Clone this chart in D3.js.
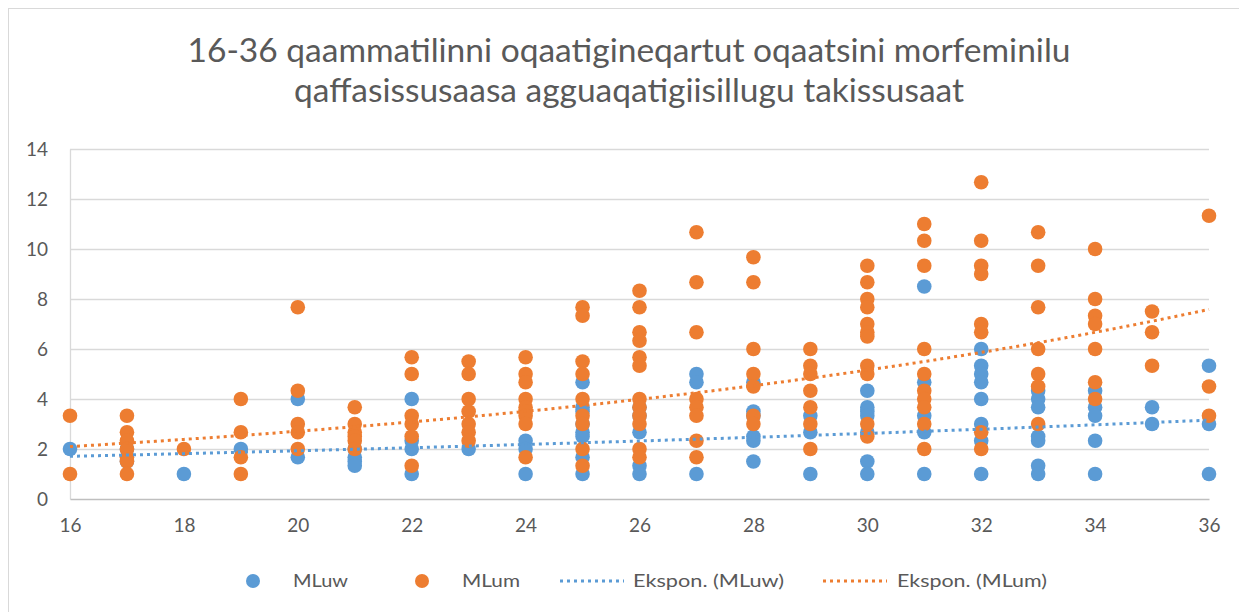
<!DOCTYPE html>
<html>
<head>
<meta charset="utf-8">
<script src="https://cdnjs.cloudflare.com/ajax/libs/d3/7.8.5/d3.min.js"></script>
<style>
  body { margin: 0; background: #fff; }
  text { font-family: Lato, "Open Sans", sans-serif; fill: #595959; }
</style>
</head>
<body>
<script>
// chart data
var titleLines = ["16-36 qaammatilinni oqaatigineqartut oqaatsini morfeminilu",
                  "qaffasissusaasa agguaqatigiisillugu takissusaat"];
var ages = [16, 17, 18, 19, 20, 21, 22, 23, 24, 25, 26, 27, 28, 29, 30, 31, 32, 33, 34, 35, 36];
var xTicks = [16, 18, 20, 22, 24, 26, 28, 30, 32, 34, 36];
var yTicks = [0, 2, 4, 6, 8, 10, 12, 14];
var seriesNames = ["MLuw", "MLum", "Ekspon. (MLuw)", "Ekspon. (MLum)"];

// MLuw values per age (same order as ages)
var mluw = [
  [2],
  [2, 1.5],
  [1],
  [2],
  [4, 1.67],
  [2, 1.67, 1.5, 1.33],
  [4, 2.33, 2, 1],
  [2],
  [2.33, 2, 1],
  [4.67, 3.67, 3.5, 3, 2.67, 2.5, 1.67, 1],
  [3.67, 3.33, 2.67, 1.33, 1],
  [5, 4.67, 1],
  [4.67, 3.5, 3.33, 2.5, 2.33, 1.5],
  [3.33, 2.67, 1],
  [4.33, 3.67, 3.5, 3.33, 2.67, 1.5, 1],
  [8.5, 4.67, 3.33, 2.67, 1],
  [6, 5.33, 5, 4.67, 4, 3, 2.33, 1],
  [4.33, 4, 3.67, 2.5, 2.33, 1.33, 1],
  [4.33, 3.67, 3.33, 2.33, 1],
  [3.67, 3],
  [5.33, 3, 1]
];

// MLum values per age
var mlum = [
  [3.33, 1],
  [3.33, 2.67, 2.33, 2, 1.67, 1.5, 1],
  [2],
  [4, 2.67, 1.67, 1],
  [7.67, 4.33, 3, 2.67, 2],
  [3.67, 3, 2.67, 2.5, 2.33, 2],
  [5.67, 5, 3.33, 3, 2.5, 1.33],
  [5.5, 5, 4, 3.5, 3, 2.67, 2.33],
  [5.67, 5, 4.67, 4, 3.67, 3.5, 3.33, 3, 1.67],
  [7.67, 7.33, 5.5, 5, 4, 3.33, 3, 2, 1.33],
  [8.33, 7.67, 6.67, 6.33, 5.67, 5.33, 4, 3.67, 3.33, 3, 2, 1.67],
  [10.67, 8.67, 6.67, 4, 3.67, 3.33, 2.33, 1.67],
  [9.67, 8.67, 6, 5, 4.5, 3.33, 3],
  [6, 5.33, 5, 4.33, 3.67, 3, 2],
  [9.33, 8.67, 8, 7.67, 7, 6.67, 6.5, 5.33, 5, 3, 2.5],
  [11, 10.33, 9.33, 6, 5, 4.33, 4, 3.67, 3, 2],
  [12.67, 10.33, 9.33, 9, 7, 6.67, 2.67, 2],
  [10.67, 9.33, 7.67, 6, 5, 4.5, 3],
  [10, 8, 7.33, 7, 6, 4.67, 4],
  [7.5, 6.67, 5.33],
  [11.33, 4.5, 3.33]
];

var blue = "#5B9BD5", orange = "#ED7D31";

window.onload = function() {
  var w = 1239, h = 612;
  var svg = d3.select("body").append("svg")
      .attr("width", w)
      .attr("height", h);

  // chart frame (runs off the picture on the right and bottom)
  svg.append("rect")
      .attr("x", 8.5).attr("y", 8.5)
      .attr("width", w + 20).attr("height", h + 20)
      .attr("fill", "#fff")
      .attr("stroke", "#D9D9D9");

  // title, stretched to the width of the original lines
  var titleWidths = [883, 670];
  svg.selectAll(".title")
      .data(titleLines)
      .enter().append("text")
      .attr("class", "title")
      .attr("x", 629)
      .attr("y", function(d, i) { return 62 + i * 40; })
      .attr("text-anchor", "middle")
      .attr("textLength", function(d, i) { return titleWidths[i]; })
      .attr("lengthAdjust", "spacingAndGlyphs")
      .style("font-size", "32px")
      .text(function(d) { return d; });

  var xScale = d3.scaleLinear().domain([16, 36]).range([70, 1209]);
  var yScale = d3.scaleLinear().domain([0, 14]).range([499, 149]);

  // gridlines
  svg.append("g")
      .attr("transform", "translate(70,0)")
      .call(d3.axisLeft(yScale).tickValues(yTicks.slice(1)).tickSize(-(1209 - 70)).tickFormat(""))
      .call(function(g) {
        g.select(".domain").remove();
        g.selectAll("line").attr("stroke", "#D9D9D9").attr("stroke-width", 1.3);
      });

  // y axis labels + line
  svg.append("g")
      .attr("transform", "translate(70,0)")
      .call(d3.axisLeft(yScale).tickValues(yTicks).tickSize(0).tickPadding(22))
      .call(function(g) {
        g.select(".domain").attr("stroke", "#D9D9D9").attr("stroke-width", 1.3);
        g.selectAll("text").style("font-size", "19px").attr("fill", "#595959").attr("font-family", null);
      });

  // x axis
  svg.append("g")
      .attr("transform", "translate(0,499)")
      .call(d3.axisBottom(xScale).tickValues(xTicks).tickSize(0).tickPadding(20))
      .call(function(g) {
        g.select(".domain").attr("stroke", "#BFBFBF").attr("stroke-width", 1.5);
        g.selectAll("text").style("font-size", "19px").attr("fill", "#595959").attr("font-family", null);
      });

  // flatten to points
  function toPoints(arr) {
    var pts = [];
    arr.forEach(function(vals, i) {
      vals.forEach(function(v) { pts.push({x: ages[i], y: v}); });
    });
    return pts;
  }
  var ptsW = toPoints(mluw), ptsM = toPoints(mlum);

  // exponential trendline like Excel: least squares on ln(y)
  function expFit(pts) {
    var n = pts.length, sx = 0, sy = 0, sxx = 0, sxy = 0;
    pts.forEach(function(p) {
      var ly = Math.log(p.y);
      sx += p.x; sy += ly; sxx += p.x * p.x; sxy += p.x * ly;
    });
    var b = (n * sxy - sx * sy) / (n * sxx - sx * sx);
    var a = Math.exp((sy - b * sx) / n);
    return function(x) { return a * Math.exp(b * x); };
  }

  var plot = svg.append("g");

  plot.selectAll(".dotW")
      .data(ptsW)
      .enter().append("circle")
      .attr("class", "dotW")
      .attr("cx", function(d) { return xScale(d.x); })
      .attr("cy", function(d) { return yScale(d.y); })
      .attr("r", 7.3)
      .attr("fill", blue);

  plot.selectAll(".dotM")
      .data(ptsM)
      .enter().append("circle")
      .attr("class", "dotM")
      .attr("cx", function(d) { return xScale(d.x); })
      .attr("cy", function(d) { return yScale(d.y); })
      .attr("r", 7.3)
      .attr("fill", orange);

  var trendLine = d3.line()
      .x(function(d) { return xScale(d[0]); })
      .y(function(d) { return yScale(d[1]); });

  [[ptsW, blue], [ptsM, orange]].forEach(function(s) {
    var f = expFit(s[0]);
    var line = d3.range(16, 36.01, 0.25).map(function(x) { return [x, f(x)]; });
    plot.append("path")
        .attr("d", trendLine(line))
        .attr("fill", "none")
        .attr("stroke", s[1])
        .attr("stroke-width", 3)
        .attr("stroke-dasharray", "3,4");
  });

  // legend
  var legendItems = [
    {name: seriesNames[0], kind: "dot", color: blue, x: 253, tx: 293, tw: 55},
    {name: seriesNames[1], kind: "dot", color: orange, x: 422, tx: 462, tw: 58},
    {name: seriesNames[2], kind: "line", color: blue, x: 560, tx: 633, tw: 151},
    {name: seriesNames[3], kind: "line", color: orange, x: 823, tx: 897, tw: 150}
  ];
  var legend = svg.append("g").attr("transform", "translate(0,581)");
  legendItems.forEach(function(d) {
    if (d.kind == "dot") {
      legend.append("circle").attr("cx", d.x).attr("r", 7).attr("fill", d.color);
    } else {
      legend.append("line").attr("x1", d.x).attr("x2", d.x + 64)
          .attr("stroke", d.color).attr("stroke-width", 3).attr("stroke-dasharray", "3,4");
    }
    legend.append("text")
        .attr("x", d.tx).attr("y", 6)
        .attr("textLength", d.tw)
        .attr("lengthAdjust", "spacingAndGlyphs")
        .style("font-size", "18px")
        .text(d.name);
  });
};
</script>
</body>
</html>
